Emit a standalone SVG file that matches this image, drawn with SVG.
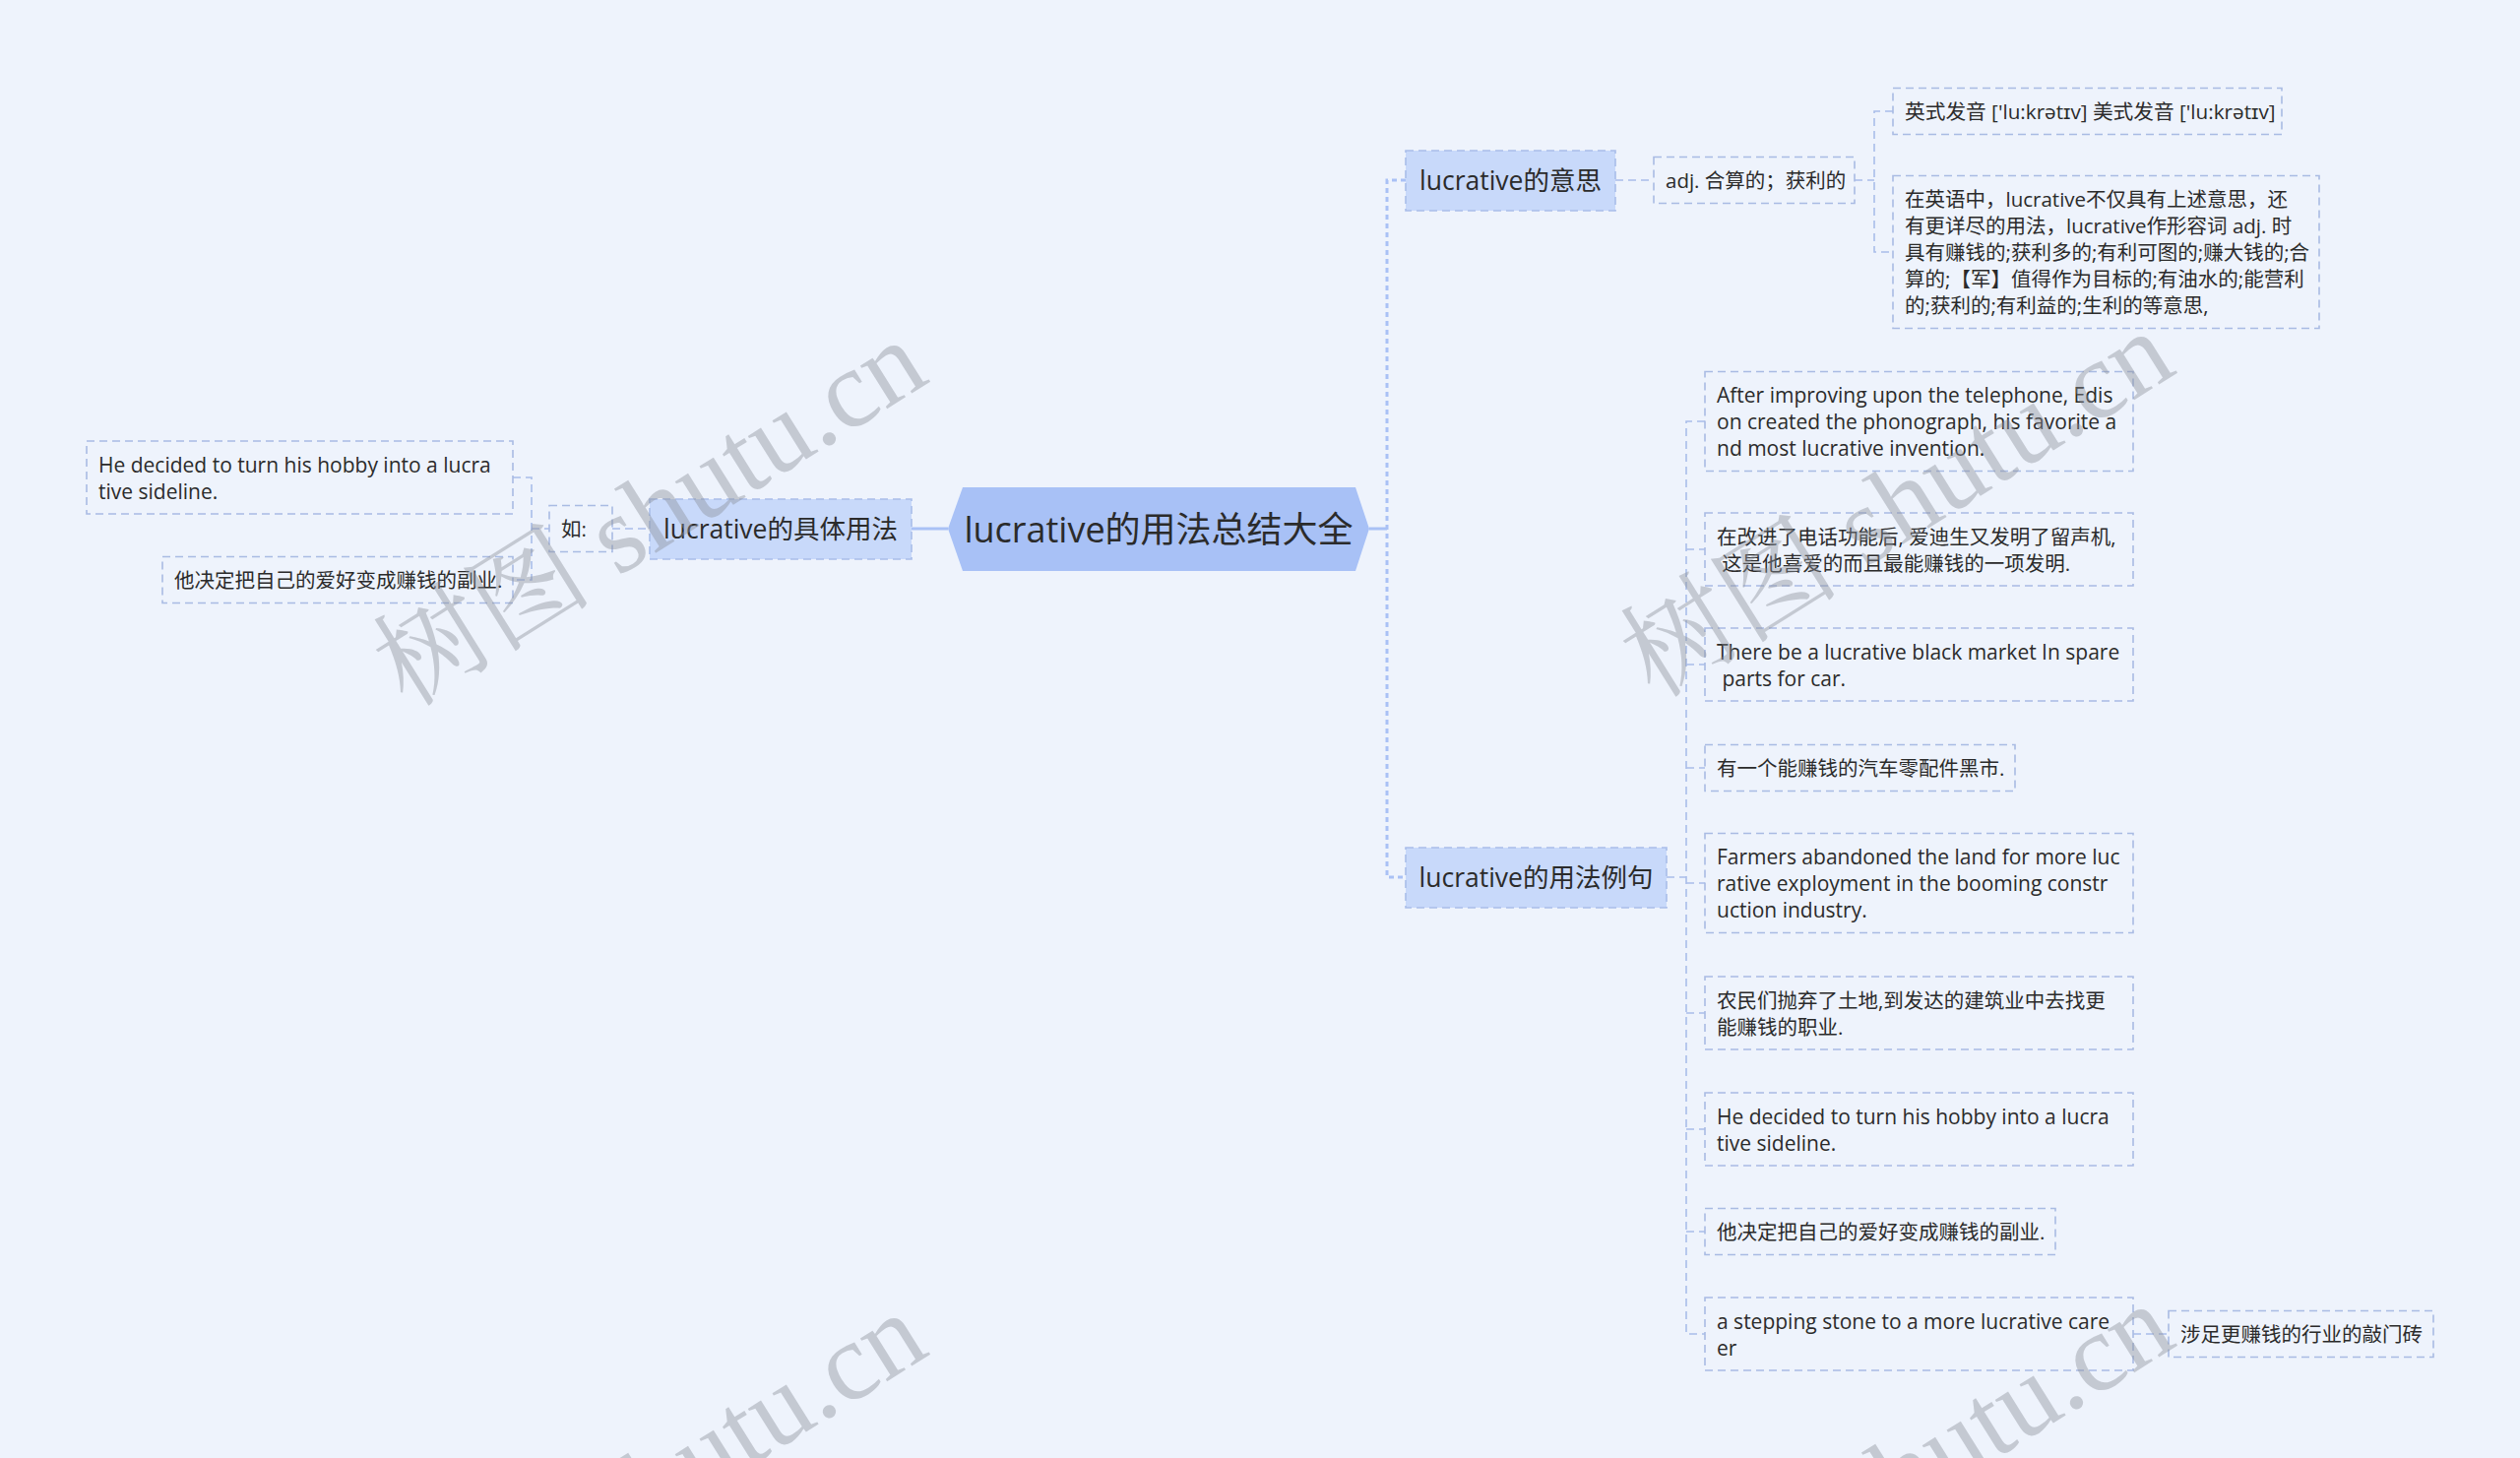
<svg xmlns="http://www.w3.org/2000/svg" width="2560" height="1481" viewBox="0 0 2560 1481">
<style>
.t{font-family:"Open Sans","Noto Sans CJK SC",sans-serif;fill:#2b2b2b;dominant-baseline:central}
.leaf{fill:none;stroke:#a9bbe3;stroke-width:1.6;stroke-dasharray:8 5}
.main{fill:#c8d9fa;stroke:#a9bde9;stroke-width:1.6;stroke-dasharray:8 5}
.c{fill:none;stroke:#a9bde9;stroke-width:1.6;stroke-dasharray:8 5}
.s{font-size:21px}
.z{font-size:20.5px}
.m{font-size:26.5px}
.wm{font-family:"Liberation Serif","Noto Serif CJK SC","Noto Sans CJK SC",serif;font-size:112px;fill:#8a8f99;fill-opacity:0.42}
</style>
<rect width="2560" height="1481" fill="#eef3fc"/>
<g id="connectors">
<line x1="926" y1="537" x2="963" y2="537" stroke="#a9c1f5" stroke-width="3"/>
<line x1="1391" y1="537" x2="1409" y2="537" stroke="#a9c1f5" stroke-width="3"/>
<path d="M1428,183 H1409 V891 H1428" fill="none" stroke="#a9c1f5" stroke-width="3" stroke-dasharray="5 4"/>
<path class="c" d="M622,537 H660"/>
<path class="c" d="M521,485 H540 V589 H521 M540,537 H558"/>
<path class="c" d="M1641,183 H1680"/>
<path class="c" d="M1884,183 H1904 M1923,113 H1904 V256 H1923"/>
<path class="c" d="M1693,891 H1713 M1732,428 H1713 V1355 H1732 M1713,558 H1732 M1713,675 H1732 M1713,780 H1732 M1713,897 H1732 M1713,1029 H1732 M1713,1147 H1732 M1713,1251 H1732"/>
<path class="c" d="M2167,1355 H2203"/>
</g>
<g id="root">
<polygon points="963,537 978,495 1377,495 1391,537 1377,580 978,580" fill="#a8c1f6"/>
<text class="t" x="1177" y="537" text-anchor="middle" font-size="36" fill="#222">lucrative的用法总结大全</text>
</g>
<g id="n-usage">
<rect class="main" x="660" y="507" width="266" height="61"/>
<text class="t m" x="793" y="537" text-anchor="middle">lucrative的具体用法</text>
</g>
<g id="n-ru">
<rect class="leaf" x="558" y="513.5" width="64" height="47"/>
<text class="t z" x="570" y="537">如:</text>
</g>
<g id="n-left1">
<rect class="leaf" x="88" y="448" width="433" height="74"/>
<text class="t s" x="100" y="471.5">He decided to turn his hobby into a lucra</text>
<text class="t s" x="100" y="498.5">tive sideline.</text>
</g>
<g id="n-left2">
<rect class="leaf" x="165" y="565.5" width="356" height="47"/>
<text class="t z" x="177" y="589">他决定把自己的爱好变成赚钱的副业.</text>
</g>
<g id="n-meaning">
<rect class="main" x="1428" y="153" width="213" height="61"/>
<text class="t m" x="1534.5" y="183" text-anchor="middle">lucrative的意思</text>
</g>
<g id="n-adj">
<rect class="leaf" x="1680" y="159.5" width="204" height="47"/>
<text class="t z" x="1692" y="183">adj. 合算的；获利的</text>
</g>
<g id="n-pron">
<rect class="leaf" x="1923" y="89.5" width="395" height="47"/>
<text class="t" font-size="20.7" x="1935" y="113">英式发音 ['lu:krətɪv] 美式发音 ['lu:krətɪv]</text>
</g>
<g id="n-desc">
<rect class="leaf" x="1923" y="178.5" width="433" height="155"/>
<text class="t z" x="1935" y="202">在英语中，lucrative不仅具有上述意思，还</text>
<text class="t z" x="1935" y="229">有更详尽的用法，lucrative作形容词 adj. 时</text>
<text class="t z" x="1935" y="256">具有赚钱的;获利多的;有利可图的;赚大钱的;合</text>
<text class="t z" x="1935" y="283">算的;【军】值得作为目标的;有油水的;能营利</text>
<text class="t z" x="1935" y="310">的;获利的;有利益的;生利的等意思,</text>
</g>
<g id="n-examples">
<rect class="main" x="1428" y="861" width="265" height="61"/>
<text class="t m" x="1560.5" y="891" text-anchor="middle">lucrative的用法例句</text>
</g>
<g id="n-ex1">
<rect class="leaf" x="1732" y="377.5" width="435" height="101"/>
<text class="t s" x="1744" y="401">After improving upon the telephone, Edis</text>
<text class="t s" x="1744" y="428">on created the phonograph, his favorite a</text>
<text class="t s" x="1744" y="455">nd most lucrative invention.</text>
</g>
<g id="n-ex2">
<rect class="leaf" x="1732" y="521" width="435" height="74"/>
<text class="t z" x="1744" y="544.5">在改进了电话功能后, 爱迪生又发明了留声机,</text>
<text class="t z" x="1744" y="571.5" xml:space="preserve"> 这是他喜爱的而且最能赚钱的一项发明.</text>
</g>
<g id="n-ex3">
<rect class="leaf" x="1732" y="638" width="435" height="74"/>
<text class="t s" x="1744" y="661.5">There be a lucrative black market In spare</text>
<text class="t s" x="1744" y="688.5" xml:space="preserve"> parts for car.</text>
</g>
<g id="n-ex4">
<rect class="leaf" x="1732" y="756.5" width="315" height="47"/>
<text class="t z" x="1744" y="780">有一个能赚钱的汽车零配件黑市.</text>
</g>
<g id="n-ex5">
<rect class="leaf" x="1732" y="846.5" width="435" height="101"/>
<text class="t s" x="1744" y="870">Farmers abandoned the land for more luc</text>
<text class="t s" x="1744" y="897">rative exployment in the booming constr</text>
<text class="t s" x="1744" y="924">uction industry.</text>
</g>
<g id="n-ex6">
<rect class="leaf" x="1732" y="992" width="435" height="74"/>
<text class="t z" x="1744" y="1015.5">农民们抛弃了土地,到发达的建筑业中去找更</text>
<text class="t z" x="1744" y="1042.5">能赚钱的职业.</text>
</g>
<g id="n-ex7">
<rect class="leaf" x="1732" y="1110" width="435" height="74"/>
<text class="t s" x="1744" y="1133.5">He decided to turn his hobby into a lucra</text>
<text class="t s" x="1744" y="1160.5">tive sideline.</text>
</g>
<g id="n-ex8">
<rect class="leaf" x="1732" y="1227.5" width="356" height="47"/>
<text class="t z" x="1744" y="1251">他决定把自己的爱好变成赚钱的副业.</text>
</g>
<g id="n-ex9">
<rect class="leaf" x="1732" y="1318" width="435" height="74"/>
<text class="t s" x="1744" y="1341.5">a stepping stone to a more lucrative care</text>
<text class="t s" x="1744" y="1368.5">er</text>
</g>
<g id="n-ex9a">
<rect class="leaf" x="2203" y="1331.5" width="269" height="47"/>
<text class="t z" x="2215" y="1355">涉足更赚钱的行业的敲门砖</text>
</g>
<g id="watermark">
<text class="wm" x="660" y="521" text-anchor="middle" dominant-baseline="central" transform="rotate(-32 660 521)">树图 shutu.cn</text>
<text class="wm" x="1927" y="512" text-anchor="middle" dominant-baseline="central" transform="rotate(-32 1927 512)">树图 shutu.cn</text>
<text class="wm" x="660" y="1509" text-anchor="middle" dominant-baseline="central" transform="rotate(-32 660 1509)">树图 shutu.cn</text>
<text class="wm" x="1927" y="1500" text-anchor="middle" dominant-baseline="central" transform="rotate(-32 1927 1500)">树图 shutu.cn</text>
</g>
</svg>
